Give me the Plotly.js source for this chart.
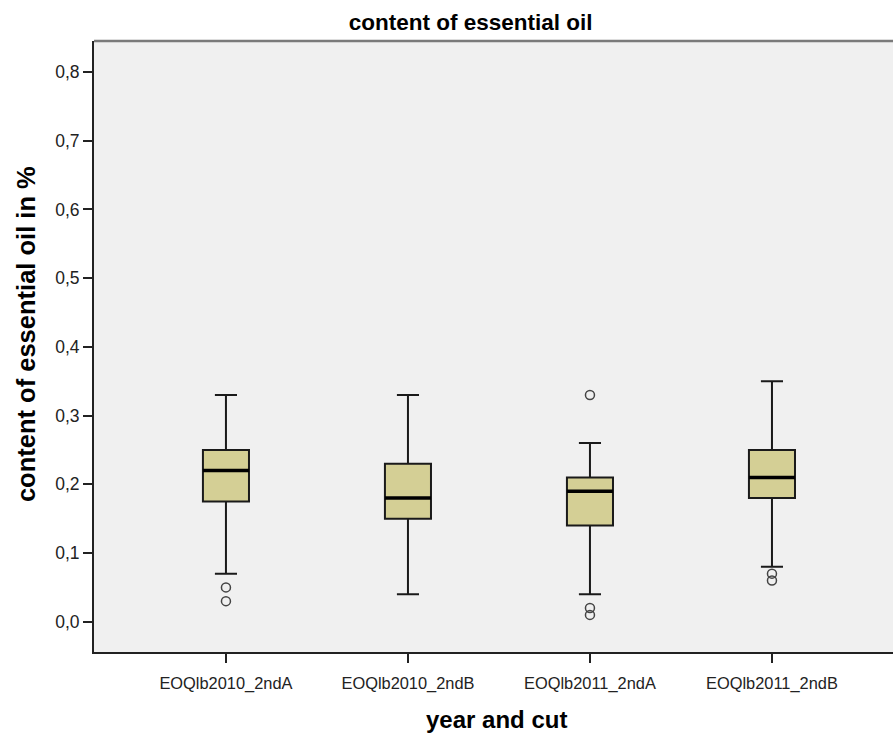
<!DOCTYPE html>
<html>
<head>
<meta charset="utf-8">
<script src="https://cdn.plot.ly/plotly-3.0.1.min.js"></script>
<style>html,body{margin:0;padding:0;background:#fff;}#chart{width:893px;height:734px;}</style>
</head>
<body>
<div id="chart"></div>
<script>
// Data
const categories = ["EOQlb2010_2ndA", "EOQlb2010_2ndB", "EOQlb2011_2ndA", "EOQlb2011_2ndB"];
const lowerWhisker = [0.07, 0.04, 0.04, 0.08];
const q1Values     = [0.175, 0.15, 0.14, 0.18];
const medianValues = [0.22, 0.18, 0.19, 0.21];
const q3Values     = [0.25, 0.23, 0.21, 0.25];
const upperWhisker = [0.33, 0.33, 0.26, 0.35];
const outlierGroup = [0, 0, 2, 2, 2, 3, 3];
const outlierValue = [0.05, 0.03, 0.33, 0.02, 0.01, 0.07, 0.06];
const yTicks = [0, 0.1, 0.2, 0.3, 0.4, 0.5, 0.6, 0.7, 0.8];

const idx = categories.map((c, i) => i);
const boxWidth = 0.253;
const FONT = "Liberation Sans, Arial, sans-serif";

const boxTrace = {
  type: "box",
  x: idx,
  q1: q1Values,
  median: medianValues,
  q3: q3Values,
  lowerfence: lowerWhisker,
  upperfence: upperWhisker,
  width: boxWidth,
  whiskerwidth: 0.48,
  boxpoints: false,
  fillcolor: "#D4CF95",
  line: {color: "#1a1a1a", width: 2},
  hoverinfo: "skip",
  showlegend: false
};

const outlierTrace = {
  type: "scatter",
  mode: "markers",
  x: outlierGroup,
  y: outlierValue,
  marker: {symbol: "circle-open", size: 9, color: "#444", line: {width: 1.5, color: "#444"}},
  showlegend: false,
  hoverinfo: "skip"
};

const shapes = medianValues.map((m, i) => ({
  type: "line", xref: "x", yref: "y",
  x0: i - boxWidth / 2, x1: i + boxWidth / 2, y0: m, y1: m,
  line: {color: "#000", width: 3.5}
}));
shapes.push({type: "line", xref: "paper", yref: "paper", x0: 0, x1: 1, y0: 1, y1: 1,
  line: {color: "#7a7a7a", width: 2.5}});

const layout = {
  width: 893, height: 734,
  margin: {l: 94, r: 0, t: 41, b: 82},
  paper_bgcolor: "#ffffff",
  plot_bgcolor: "#F0F0F0",
  separators: ", ",
  font: {family: FONT, color: "#222", size: 16},
  title: {
    text: "<b>content of essential oil</b>",
    font: {family: FONT, size: 22.5, color: "#000"},
    xref: "container", x: 0.527, xanchor: "center",
    yref: "container", y: 0.97, yanchor: "middle"
  },
  xaxis: {
    range: [-0.725, 3.665],
    tickvals: idx, ticktext: categories,
    ticks: "outside", ticklen: 9, tickwidth: 2, tickcolor: "#222",
    ticklabelstandoff: 6,
    showline: true, linecolor: "#222", linewidth: 2,
    showgrid: false, zeroline: false,
    tickfont: {size: 16.4, color: "#222"}
  },
  yaxis: {
    range: [-0.044, 0.845],
    tickvals: yTicks, tickformat: ".1f",
    ticks: "outside", ticklen: 9, tickwidth: 2, tickcolor: "#222",
    showline: true, linecolor: "#222", linewidth: 2,
    showgrid: false, zeroline: false,
    tickfont: {size: 17.5, color: "#222"}
  },
  annotations: [
    {text: "<b>year and cut</b>", xref: "paper", yref: "paper", x: 0.504, y: -0.111,
     xanchor: "center", yanchor: "middle", showarrow: false,
     font: {family: FONT, size: 24, color: "#000"}},
    {text: "<b>content of essential oil in %</b>", xref: "paper", yref: "paper", x: -0.085, y: 0.5205,
     xanchor: "center", yanchor: "middle", textangle: -90, showarrow: false,
     font: {family: FONT, size: 25.5, color: "#000"}}
  ],
  shapes: shapes,
  showlegend: false
};

Plotly.newPlot("chart", [boxTrace, outlierTrace], layout, {displayModeBar: false, staticPlot: true});
</script>
</body>
</html>
